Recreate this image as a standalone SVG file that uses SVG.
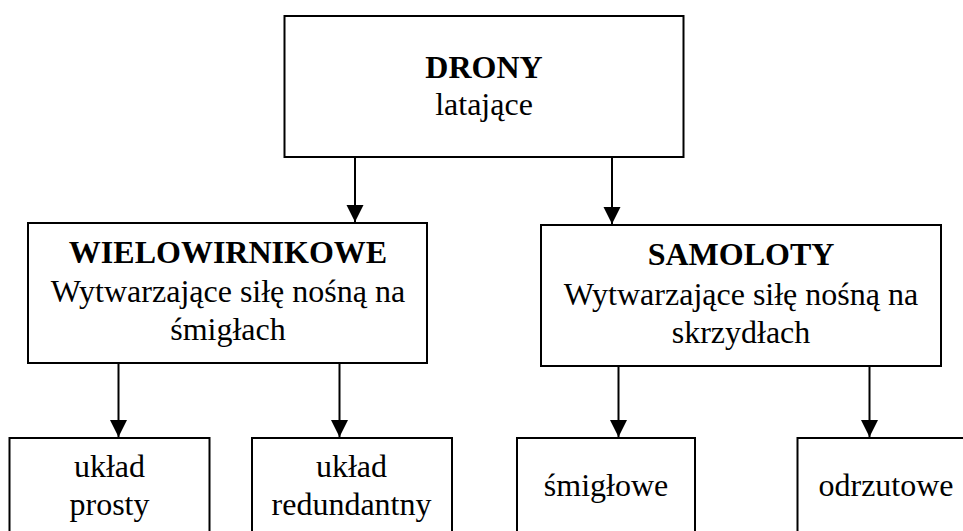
<svg xmlns="http://www.w3.org/2000/svg" width="963" height="531" viewBox="0 0 963 531">
<style>
.box{fill:#fff;stroke:#000;stroke-width:2}
text{font-family:'Liberation Serif','Times New Roman',Times,'DejaVu Serif',serif;font-size:32px;fill:#000;text-anchor:middle}
.b{font-weight:bold}
.c{stroke:#000;stroke-width:2;fill:none}
</style>
<defs>
<marker id="ah" markerUnits="userSpaceOnUse" markerWidth="18" markerHeight="18" refX="17" refY="8.5" orient="auto">
<path d="M0,0 L17,8.5 L0,17 Z" fill="#000"/>
</marker>
</defs>
<rect width="963" height="531" fill="#fff"/>
<g id="connectors">
<line class="c" x1="355" y1="157" x2="355" y2="222" marker-end="url(#ah)"/>
<line class="c" x1="612" y1="157" x2="612" y2="224" marker-end="url(#ah)"/>
<line class="c" x1="118.5" y1="363" x2="118.5" y2="437" marker-end="url(#ah)"/>
<line class="c" x1="339.5" y1="363" x2="339.5" y2="437" marker-end="url(#ah)"/>
<line class="c" x1="618.5" y1="366" x2="618.5" y2="437" marker-end="url(#ah)"/>
<line class="c" x1="869.5" y1="366" x2="869.5" y2="437" marker-end="url(#ah)"/>
</g>
<g id="drony">
<rect class="box" x="284.5" y="16" width="399" height="141"/>
<text class="b" x="484" y="78" font-family="Liberation Serif">DRONY</text>
<text x="484" y="115" font-family="Liberation Serif">latające</text>
</g>
<g id="wielowirnikowe">
<rect class="box" x="28" y="223" width="399" height="140"/>
<text class="b" x="228" y="263" font-family="Liberation Serif">WIELOWIRNIKOWE</text>
<text x="228" y="301.5" font-family="Liberation Serif">Wytwarzające siłę nośną na</text>
<text x="228" y="340" font-family="Liberation Serif">śmigłach</text>
</g>
<g id="samoloty">
<rect class="box" x="541" y="225" width="400" height="141"/>
<text class="b" x="741" y="265" font-family="Liberation Serif">SAMOLOTY</text>
<text x="741" y="305" font-family="Liberation Serif">Wytwarzające siłę nośną na</text>
<text x="741" y="343" font-family="Liberation Serif">skrzydłach</text>
</g>
<g id="uklad-prosty">
<rect class="box" x="9.5" y="438" width="200" height="110"/>
<text x="109.5" y="476.5" font-family="Liberation Serif">układ</text>
<text x="109.5" y="515" font-family="Liberation Serif">prosty</text>
</g>
<g id="uklad-redundantny">
<rect class="box" x="252" y="438" width="200" height="110"/>
<text x="351.5" y="476.5" font-family="Liberation Serif">układ</text>
<text x="351.5" y="515" font-family="Liberation Serif">redundantny</text>
</g>
<g id="smiglowe">
<rect class="box" x="517" y="438" width="178" height="110"/>
<text x="606" y="495.5" font-family="Liberation Serif">śmigłowe</text>
</g>
<g id="odrzutowe">
<rect class="box" x="797.5" y="438" width="178" height="110"/>
<text x="886" y="495.5" font-family="Liberation Serif">odrzutowe</text>
</g>
</svg>
